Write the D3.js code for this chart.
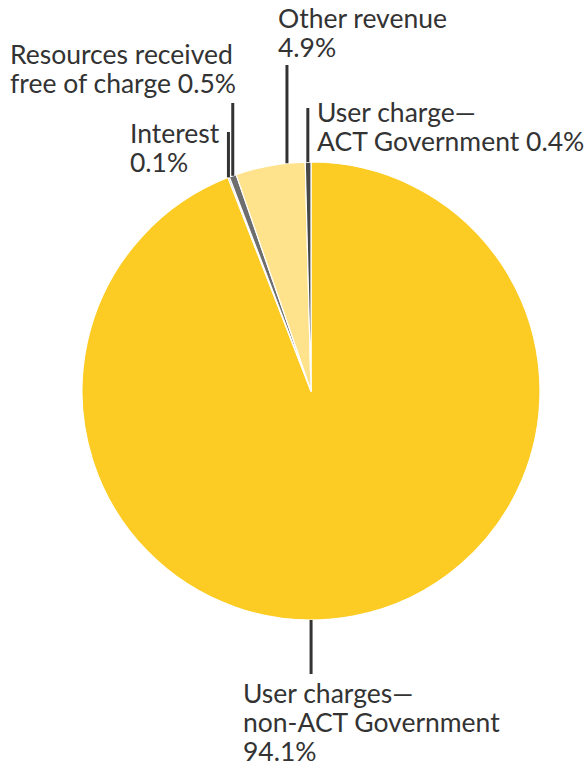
<!DOCTYPE html>
<html>
<head>
<meta charset="utf-8">
<script src="https://cdn.jsdelivr.net/npm/d3@7/dist/d3.min.js"></script>
<style>
  html, body { margin: 0; padding: 0; background: #fff; }
  svg { display: block; }
  text { font-family: Lato, "Open Sans", sans-serif; fill: #333; }
</style>
</head>
<body>
<svg id="chart" width="585" height="767"></svg>
<script>
// Revenue categories, in clockwise order from 12 o'clock
const categories = [
  "User charges—non-ACT Government",
  "Interest",
  "Resources received free of charge",
  "Other revenue",
  "User charge—ACT Government"
];
const shares = [94.1, 0.1, 0.5, 4.9, 0.4];
const colors = ["#fccc24", "#3d3d3d", "#6e6e6e", "#ffe38c", "#474747"];

// Label text, one array of lines per category
const labelLines = [
  ["User charges—", "non-ACT Government", "94.1%"],
  ["Interest", "0.1%"],
  ["Resources received", "free of charge 0.5%"],
  ["Other revenue", "4.9%"],
  ["User charge—", "ACT Government 0.4%"]
];

// Label layout: text anchor, baseline of first line, where the leader meets the slice
// (fraction through the slice), and the leader's free end
const labelLayout = [
  { x: 243, y: 703, frac: 0.5313, lineTo: 674 },
  { x: 130, y: 143, frac: 0.3, lineTo: 132 },
  { x: 10,  y: 64,  frac: 0.5, lineTo: 103 },
  { x: 278, y: 28,  frac: 0.74, lineTo: 65 },
  { x: 317, y: 122, frac: 0.45, lineTo: 108 }
];

const cx = 311, cy = 391, radius = 229, lineHeight = 29;

const svg = d3.select("#chart");
const g = svg.append("g").attr("transform", `translate(${cx},${cy})`);

const pie = d3.pie().sort(null).value(d => d);
const arcs = pie(shares);
const arc = d3.arc().innerRadius(0).outerRadius(radius);

g.selectAll("path.slice")
  .data(arcs)
  .join("path")
  .attr("class", "slice")
  .attr("d", arc)
  .attr("fill", (d, i) => colors[i])
  .attr("stroke", "#fff")
  .attr("stroke-width", 1.2)
  .attr("stroke-linejoin", "round");

// Vertical leader lines from the slice edge to each label
arcs.forEach((a, i) => {
  const L = labelLayout[i];
  const ang = a.startAngle + (a.endAngle - a.startAngle) * L.frac;
  const px = cx + radius * Math.sin(ang);
  const py = cy - radius * Math.cos(ang);
  svg.append("line")
    .attr("x1", px).attr("x2", px)
    .attr("y1", py).attr("y2", L.lineTo)
    .attr("stroke", "#333")
    .attr("stroke-width", 3);
});

// Category labels
labelLines.forEach((lines, i) => {
  const L = labelLayout[i];
  const t = svg.append("text")
    .attr("x", L.x)
    .attr("y", L.y)
    .attr("font-size", 26.5);
  lines.forEach((s, k) => {
    t.append("tspan").attr("x", L.x).attr("y", L.y + k * lineHeight).text(s);
  });
});
</script>
</body>
</html>
